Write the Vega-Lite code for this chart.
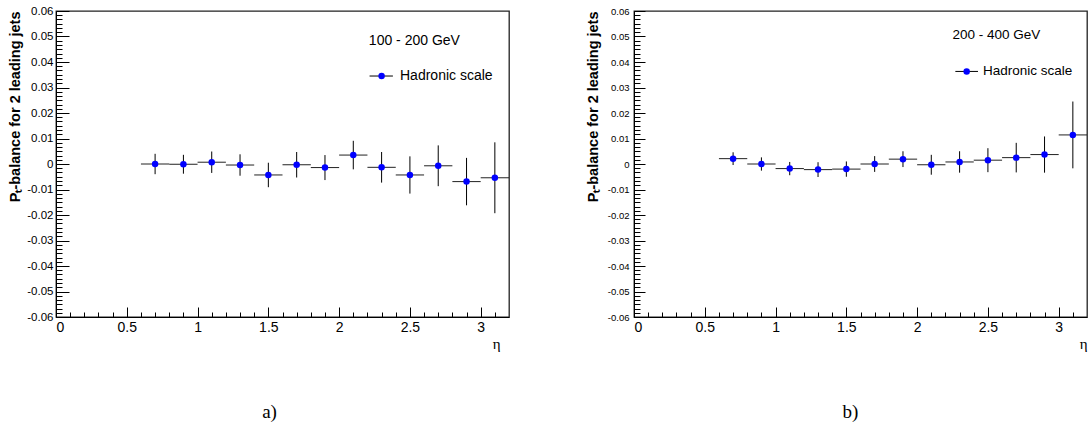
{
  "$schema": "https://vega.github.io/schema/vega-lite/v6.json",
  "padding": {"left": 7, "top": 4, "right": 0, "bottom": 0},
  "background": "white",
  "spacing": 73,
  "config": {
    "font": "Liberation Sans",
    "view": {"stroke": "#222", "strokeWidth": 1.3},
    "axis": {"labelColor": "black", "titleColor": "black", "tickColor": "black", "domainColor": "black", "grid": false, "labelFont": "Liberation Sans", "titleFont": "Liberation Sans"}
  },
  "datasets": {
    "lowpt": [
      {"eta": 0.7, "lo": 0.6, "hi": 0.8, "balance": 0.0000, "elo": -0.0040, "ehi": 0.0040},
      {"eta": 0.9, "lo": 0.8, "hi": 1.0, "balance": -0.0001, "elo": -0.0038, "ehi": 0.0036},
      {"eta": 1.1, "lo": 1.0, "hi": 1.2, "balance": 0.0007, "elo": -0.0035, "ehi": 0.0049},
      {"eta": 1.3, "lo": 1.2, "hi": 1.4, "balance": -0.0004, "elo": -0.0046, "ehi": 0.0038},
      {"eta": 1.5, "lo": 1.4, "hi": 1.6, "balance": -0.0043, "elo": -0.0091, "ehi": 0.0005},
      {"eta": 1.7, "lo": 1.6, "hi": 1.8, "balance": -0.0003, "elo": -0.0053, "ehi": 0.0047},
      {"eta": 1.9, "lo": 1.8, "hi": 2.0, "balance": -0.0014, "elo": -0.0063, "ehi": 0.0035},
      {"eta": 2.1, "lo": 2.0, "hi": 2.2, "balance": 0.0035, "elo": -0.0021, "ehi": 0.0091},
      {"eta": 2.3, "lo": 2.2, "hi": 2.4, "balance": -0.0013, "elo": -0.0073, "ehi": 0.0047},
      {"eta": 2.5, "lo": 2.4, "hi": 2.6, "balance": -0.0043, "elo": -0.0116, "ehi": 0.0030},
      {"eta": 2.7, "lo": 2.6, "hi": 2.8, "balance": -0.0007, "elo": -0.0087, "ehi": 0.0073},
      {"eta": 2.9, "lo": 2.8, "hi": 3.0, "balance": -0.0069, "elo": -0.0162, "ehi": 0.0024},
      {"eta": 3.1, "lo": 3.0, "hi": 3.2, "balance": -0.0054, "elo": -0.0193, "ehi": 0.0085}
    ],
    "highpt": [
      {"eta": 0.7, "lo": 0.6, "hi": 0.8, "balance": 0.0021, "elo": -0.0004, "ehi": 0.0046},
      {"eta": 0.9, "lo": 0.8, "hi": 1.0, "balance": 0.0000, "elo": -0.0026, "ehi": 0.0026},
      {"eta": 1.1, "lo": 1.0, "hi": 1.2, "balance": -0.0018, "elo": -0.0044, "ehi": 0.0008},
      {"eta": 1.3, "lo": 1.2, "hi": 1.4, "balance": -0.0022, "elo": -0.0051, "ehi": 0.0007},
      {"eta": 1.5, "lo": 1.4, "hi": 1.6, "balance": -0.0020, "elo": -0.0050, "ehi": 0.0010},
      {"eta": 1.7, "lo": 1.6, "hi": 1.8, "balance": 0.0000, "elo": -0.0031, "ehi": 0.0031},
      {"eta": 1.9, "lo": 1.8, "hi": 2.0, "balance": 0.0019, "elo": -0.0012, "ehi": 0.0050},
      {"eta": 2.1, "lo": 2.0, "hi": 2.2, "balance": -0.0003, "elo": -0.0042, "ehi": 0.0036},
      {"eta": 2.3, "lo": 2.2, "hi": 2.4, "balance": 0.0008, "elo": -0.0034, "ehi": 0.0050},
      {"eta": 2.5, "lo": 2.4, "hi": 2.6, "balance": 0.0015, "elo": -0.0032, "ehi": 0.0062},
      {"eta": 2.7, "lo": 2.6, "hi": 2.8, "balance": 0.0025, "elo": -0.0033, "ehi": 0.0083},
      {"eta": 2.9, "lo": 2.8, "hi": 3.0, "balance": 0.0037, "elo": -0.0034, "ehi": 0.0108},
      {"eta": 3.1, "lo": 3.0, "hi": 3.2, "balance": 0.0114, "elo": -0.0017, "ehi": 0.0245}
    ]
  },
  "hconcat": [
    {
      "width": 453,
      "height": 306,
      "title": {"text": "a)", "orient": "bottom", "anchor": "middle", "offset": 52, "dx": -13, "font": "Liberation Serif", "fontSize": 19, "fontWeight": "normal", "color": "black"},
      "resolve": {"axis": {"x": "independent", "y": "independent"}},
      "layer": [
        {
          "data": {"name": "lowpt"},
          "mark": {"type": "rule", "color": "#222", "strokeWidth": 1},
          "encoding": {
            "x": {"field": "lo", "type": "quantitative", "scale": {"domain": [0, 3.2], "nice": false, "zero": false},
              "axis": {"orient": "bottom", "values": [0, 0.5, 1, 1.5, 2, 2.5, 3], "labelExpr": "datum.value + ''", "tickSize": -10, "labelPadding": 13, "labelFontSize": 14, "domainWidth": 1, "title": "η", "titleFont": "Liberation Serif", "titleFontSize": 15, "titleFontWeight": "normal", "titleX": 444, "titleAlign": "right", "titlePadding": 2}},
            "x2": {"field": "hi"},
            "y": {"field": "balance", "type": "quantitative", "scale": {"domain": [-0.06, 0.06], "nice": false, "zero": false},
              "axis": {"orient": "left", "values": [-0.06, -0.05, -0.04, -0.03, -0.02, -0.01, 0, 0.01, 0.02, 0.03, 0.04, 0.05, 0.06], "labelExpr": "datum.value + ''", "tickSize": -13, "labelPadding": 16, "labelFontSize": 11.5, "domainWidth": 1, "title": "Pₜ-balance for 2 leading jets", "titleFontSize": 14.5, "titleFontWeight": "bold", "titleAnchor": "end", "titlePadding": 4}}
          }
        },
        {
          "data": {"name": "lowpt"},
          "mark": {"type": "rule", "color": "black", "strokeWidth": 1},
          "encoding": {
            "x": {"field": "eta", "type": "quantitative", "axis": null},
            "y": {"field": "elo", "type": "quantitative", "axis": null},
            "y2": {"field": "ehi"}
          }
        },
        {
          "data": {"name": "lowpt"},
          "mark": {"type": "point", "filled": true, "color": "#0000ff", "opacity": 1, "size": 42},
          "encoding": {
            "x": {"field": "eta", "type": "quantitative",
              "axis": {"orient": "bottom", "values": [0.1, 0.2, 0.3, 0.4, 0.6, 0.7, 0.8, 0.9, 1.1, 1.2, 1.3, 1.4, 1.6, 1.7, 1.8, 1.9, 2.1, 2.2, 2.3, 2.4, 2.6, 2.7, 2.8, 2.9, 3.1], "tickSize": -5, "labels": false, "domain": false, "title": null}},
            "y": {"field": "balance", "type": "quantitative",
              "axis": {"orient": "left", "values": [-0.05833, -0.05667, -0.055, -0.05333, -0.05167, -0.04833, -0.04667, -0.045, -0.04333, -0.04167, -0.03833, -0.03667, -0.035, -0.03333, -0.03167, -0.02833, -0.02667, -0.025, -0.02333, -0.02167, -0.01833, -0.01667, -0.015, -0.01333, -0.01167, -0.00833, -0.00667, -0.005, -0.00333, -0.00167, 0.00167, 0.00333, 0.005, 0.00667, 0.00833, 0.01167, 0.01333, 0.015, 0.01667, 0.01833, 0.02167, 0.02333, 0.025, 0.02667, 0.02833, 0.03167, 0.03333, 0.035, 0.03667, 0.03833, 0.04167, 0.04333, 0.045, 0.04667, 0.04833, 0.05167, 0.05333, 0.055, 0.05667, 0.05833], "tickSize": -6, "labels": false, "domain": false, "title": null}}
          }
        },
        {
          "data": {"values": [{}]},
          "mark": {"type": "text", "align": "left", "baseline": "middle", "fontSize": 14, "color": "black"},
          "encoding": {
            "x": {"datum": 2.21, "type": "quantitative", "axis": null},
            "y": {"datum": 0.0482, "type": "quantitative", "axis": null},
            "text": {"value": "100 - 200 GeV"}
          }
        },
        {
          "data": {"values": [{}]},
          "mark": {"type": "rule", "color": "black", "strokeWidth": 1},
          "encoding": {
            "x": {"datum": 2.215, "type": "quantitative", "axis": null},
            "x2": {"datum": 2.38},
            "y": {"datum": 0.0345, "type": "quantitative", "axis": null}
          }
        },
        {
          "data": {"values": [{}]},
          "mark": {"type": "point", "filled": true, "color": "#0000ff", "opacity": 1, "size": 42},
          "encoding": {
            "x": {"datum": 2.30, "type": "quantitative", "axis": null},
            "y": {"datum": 0.0345, "type": "quantitative", "axis": null}
          }
        },
        {
          "data": {"values": [{}]},
          "mark": {"type": "text", "align": "left", "baseline": "middle", "fontSize": 14, "color": "black"},
          "encoding": {
            "x": {"datum": 2.43, "type": "quantitative", "axis": null},
            "y": {"datum": 0.0345, "type": "quantitative", "axis": null},
            "text": {"value": "Hadronic scale"}
          }
        }
      ]
    },
    {
      "width": 453,
      "height": 306,
      "title": {"text": "b)", "orient": "bottom", "anchor": "middle", "offset": 52, "dx": -10, "font": "Liberation Serif", "fontSize": 19, "fontWeight": "normal", "color": "black"},
      "resolve": {"axis": {"x": "independent", "y": "independent"}},
      "layer": [
        {
          "data": {"name": "highpt"},
          "mark": {"type": "rule", "color": "#222", "strokeWidth": 1},
          "encoding": {
            "x": {"field": "lo", "type": "quantitative", "scale": {"domain": [0, 3.2], "nice": false, "zero": false},
              "axis": {"orient": "bottom", "values": [0, 0.5, 1, 1.5, 2, 2.5, 3], "labelExpr": "datum.value + ''", "tickSize": -10, "labelPadding": 13, "labelFontSize": 14, "domainWidth": 1, "title": "η", "titleFont": "Liberation Serif", "titleFontSize": 15, "titleFontWeight": "normal", "titleAnchor": "end", "titleAlign": "right", "titlePadding": 2}},
            "x2": {"field": "hi"},
            "y": {"field": "balance", "type": "quantitative", "scale": {"domain": [-0.06, 0.06], "nice": false, "zero": false},
              "axis": {"orient": "left", "values": [-0.06, -0.05, -0.04, -0.03, -0.02, -0.01, 0, 0.01, 0.02, 0.03, 0.04, 0.05, 0.06], "labelExpr": "datum.value + ''", "tickSize": -11, "labelPadding": 16, "labelFontSize": 9.5, "domainWidth": 1, "title": "Pₜ-balance for 2 leading jets", "titleFontSize": 14.5, "titleFontWeight": "bold", "titleAnchor": "end", "titlePadding": 7}}
          }
        },
        {
          "data": {"name": "highpt"},
          "mark": {"type": "rule", "color": "black", "strokeWidth": 1},
          "encoding": {
            "x": {"field": "eta", "type": "quantitative", "axis": null},
            "y": {"field": "elo", "type": "quantitative", "axis": null},
            "y2": {"field": "ehi"}
          }
        },
        {
          "data": {"name": "highpt"},
          "mark": {"type": "point", "filled": true, "color": "#0000ff", "opacity": 1, "size": 42},
          "encoding": {
            "x": {"field": "eta", "type": "quantitative",
              "axis": {"orient": "bottom", "values": [0.1, 0.2, 0.3, 0.4, 0.6, 0.7, 0.8, 0.9, 1.1, 1.2, 1.3, 1.4, 1.6, 1.7, 1.8, 1.9, 2.1, 2.2, 2.3, 2.4, 2.6, 2.7, 2.8, 2.9, 3.1], "tickSize": -5, "labels": false, "domain": false, "title": null}},
            "y": {"field": "balance", "type": "quantitative",
              "axis": {"orient": "left", "values": [-0.05833, -0.05667, -0.055, -0.05333, -0.05167, -0.04833, -0.04667, -0.045, -0.04333, -0.04167, -0.03833, -0.03667, -0.035, -0.03333, -0.03167, -0.02833, -0.02667, -0.025, -0.02333, -0.02167, -0.01833, -0.01667, -0.015, -0.01333, -0.01167, -0.00833, -0.00667, -0.005, -0.00333, -0.00167, 0.00167, 0.00333, 0.005, 0.00667, 0.00833, 0.01167, 0.01333, 0.015, 0.01667, 0.01833, 0.02167, 0.02333, 0.025, 0.02667, 0.02833, 0.03167, 0.03333, 0.035, 0.03667, 0.03833, 0.04167, 0.04333, 0.045, 0.04667, 0.04833, 0.05167, 0.05333, 0.055, 0.05667, 0.05833], "tickSize": -6, "labels": false, "domain": false, "title": null}}
          }
        },
        {
          "data": {"values": [{}]},
          "mark": {"type": "text", "align": "left", "baseline": "middle", "fontSize": 13.5, "color": "black"},
          "encoding": {
            "x": {"datum": 2.25, "type": "quantitative", "axis": null},
            "y": {"datum": 0.0505, "type": "quantitative", "axis": null},
            "text": {"value": "200 - 400 GeV"}
          }
        },
        {
          "data": {"values": [{}]},
          "mark": {"type": "rule", "color": "black", "strokeWidth": 1},
          "encoding": {
            "x": {"datum": 2.27, "type": "quantitative", "axis": null},
            "x2": {"datum": 2.43},
            "y": {"datum": 0.0363, "type": "quantitative", "axis": null}
          }
        },
        {
          "data": {"values": [{}]},
          "mark": {"type": "point", "filled": true, "color": "#0000ff", "opacity": 1, "size": 42},
          "encoding": {
            "x": {"datum": 2.35, "type": "quantitative", "axis": null},
            "y": {"datum": 0.0363, "type": "quantitative", "axis": null}
          }
        },
        {
          "data": {"values": [{}]},
          "mark": {"type": "text", "align": "left", "baseline": "middle", "fontSize": 13.5, "color": "black"},
          "encoding": {
            "x": {"datum": 2.465, "type": "quantitative", "axis": null},
            "y": {"datum": 0.0363, "type": "quantitative", "axis": null},
            "text": {"value": "Hadronic scale"}
          }
        }
      ]
    }
  ]
}
